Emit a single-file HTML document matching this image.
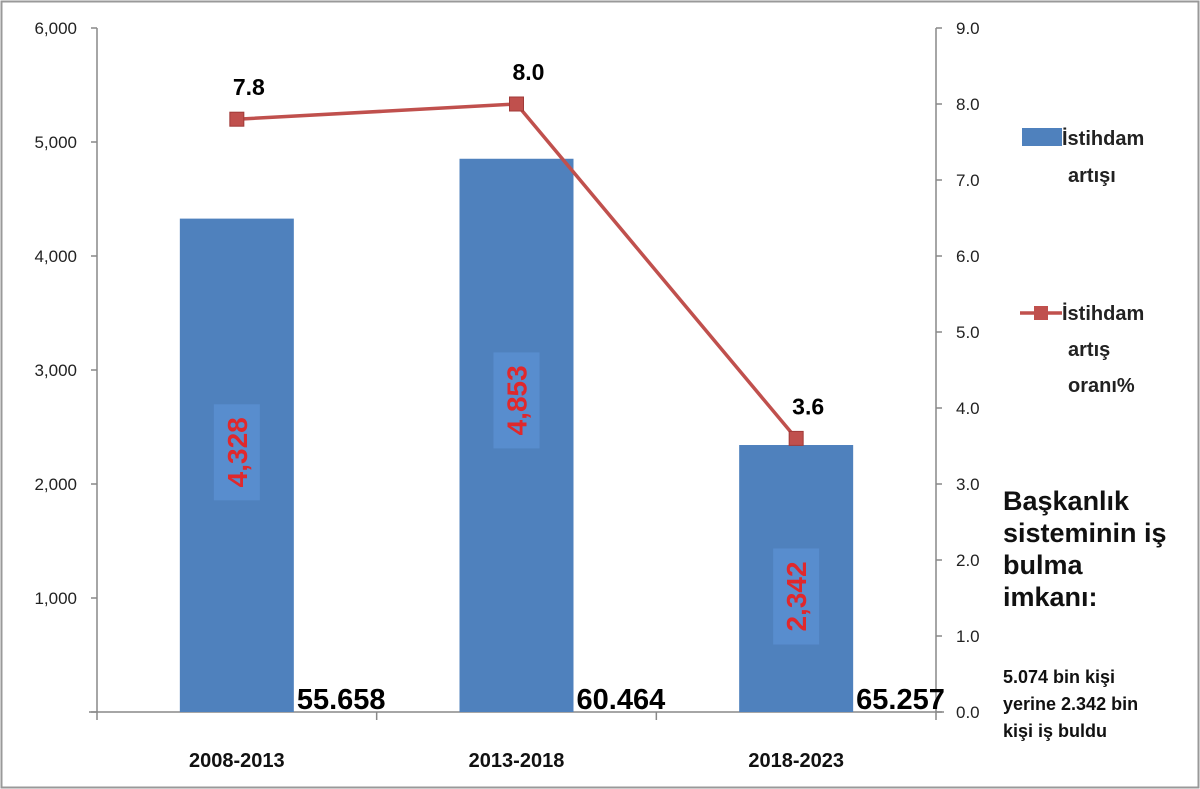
<!DOCTYPE html>
<html><head><meta charset="utf-8"><style>
body{margin:0;background:#fff}
svg{display:block;font-family:"Liberation Sans",Arial,sans-serif}
</style></head><body>
<svg id="c" width="1200" height="789">
<rect x="1.5" y="1.5" width="1197" height="786" fill="#fff" stroke="#999" stroke-width="2"/>
</svg>
<script>
const categories=["2008-2013","2013-2018","2018-2023"];
const increase=[4328,4853,2342];
const increaseLabels=["4,328","4,853","2,342"];
const rate=[7.8,8.0,3.6];
const rateLabels=["7.8","8.0","3.6"];
const totals=["55.658","60.464","65.257"];
const leftTicks=[0,1000,2000,3000,4000,5000,6000];
const leftTickLabels=["","1,000","2,000","3,000","4,000","5,000","6,000"];
const rightTicks=[0,1,2,3,4,5,6,7,8,9];
const rightTickLabels=["0.0","1.0","2.0","3.0","4.0","5.0","6.0","7.0","8.0","9.0"];

const NS="http://www.w3.org/2000/svg",svg=document.getElementById('c');
const X0=97,X1=936,Y0=712,Y1=28,band=(X1-X0)/3;
const labelShift=[-13,-35,18];
const yL=v=>Y0-(v/6000)*(Y0-Y1), yR=v=>Y0-(v/9)*(Y0-Y1), xC=i=>X0+band*(i+0.5);
function el(t,a,txt){const e=document.createElementNS(NS,t);for(const k in a)e.setAttribute(k,a[k]);if(txt!==undefined)e.textContent=txt;svg.appendChild(e);return e;}
let e;
e=el('line',{x1:X0,y1:Y1,x2:X0,y2:Y0,stroke:'#888','stroke-width':1.5});


e=el('line',{x1:X1,y1:Y1,x2:X1,y2:Y0,stroke:'#888','stroke-width':1.5});


e=el('line',{x1:X0-8,y1:Y0,x2:X1+8,y2:Y0,stroke:'#888','stroke-width':1.5});


for(let i=0;i<=3;i++){e=el('line',{x1:X0+band*i,y1:Y0,x2:X0+band*i,y2:Y0+8,stroke:'#888','stroke-width':1.5});

}
leftTicks.forEach((v,i)=>{
e=el('line',{x1:X0-6,y1:yL(v),x2:X0,y2:yL(v),stroke:'#888','stroke-width':1.5});


e=el('text',{x:X0-20,y:yL(v)+6,'text-anchor':'end','font-size':17,fill:'#222'},leftTickLabels[i]);

});
rightTicks.forEach((v,i)=>{
e=el('line',{x1:X1,y1:yR(v),x2:X1+6,y2:yR(v),stroke:'#888','stroke-width':1.5});


e=el('text',{x:X1+20,y:yR(v)+6,'font-size':17,fill:'#222'},rightTickLabels[i]);

});
categories.forEach((c,i)=>{
const bx=xC(i)-57,by=yL(increase[i]);
e=el('rect',{x:bx,y:by,width:114,height:Y0-by,fill:'#4f81bd'});


const cy=(by+Y0)/2+labelShift[i];
e=el('rect',{x:xC(i)-23,y:cy-48,width:46,height:96,fill:'#5d93d6',opacity:0.7});


e=el('text',{x:0,y:0,'text-anchor':'middle','font-size':28,'font-weight':'bold',fill:'#e0282c',transform:`translate(${xC(i)+10},${cy}) rotate(-90)`},increaseLabels[i]);


e=el('text',{x:xC(i)+60,y:Y0-3,'font-size':29,'font-weight':'bold',fill:'#000'},totals[i]);


e=el('text',{x:xC(i),y:Y0+55,'text-anchor':'middle','font-size':20,'font-weight':'bold',fill:'#111'},c);


});
e=el('polyline',{points:rate.map((v,i)=>xC(i)+','+yR(v)).join(' '),fill:'none',stroke:'#c0504d','stroke-width':3.5});


rate.forEach((v,i)=>{
e=el('rect',{x:xC(i)-7,y:yR(v)-7,width:14,height:14,fill:'#c0504d',stroke:'#a03a38'});


e=el('text',{x:xC(i)+12,y:yR(v)-24,'text-anchor':'middle','font-size':23,'font-weight':'bold',fill:'#000'},rateLabels[i]);

});
e=el('rect',{x:1022,y:128,width:40,height:18,fill:'#4f81bd'});


e=el('text',{x:1062,y:145,'font-size':20,'font-weight':'bold',fill:'#222'},'İstihdam');


el('text',{x:1068,y:182,'font-size':20,'font-weight':'bold',fill:'#222'},'artışı');
e=el('line',{x1:1020,y1:313,x2:1062,y2:313,stroke:'#c0504d','stroke-width':3.5});


el('rect',{x:1034,y:306,width:14,height:14,fill:'#c0504d'});
e=el('text',{x:1062,y:320,'font-size':20,'font-weight':'bold',fill:'#222'},'İstihdam');


el('text',{x:1068,y:356,'font-size':20,'font-weight':'bold',fill:'#222'},'artış');
el('text',{x:1068,y:392,'font-size':20,'font-weight':'bold',fill:'#222'},'oranı%');
["Başkanlık","sisteminin iş","bulma","imkanı:"].forEach((t,i)=>{
e=el('text',{x:1003,y:510+i*32,'font-size':27,'font-weight':'bold',fill:'#111'},t);

});
["5.074 bin kişi","yerine 2.342 bin","kişi iş buldu"].forEach((t,i)=>{
e=el('text',{x:1003,y:683+i*27,'font-size':18,'font-weight':'bold',fill:'#111'},t);

});
</script>
</body></html>
